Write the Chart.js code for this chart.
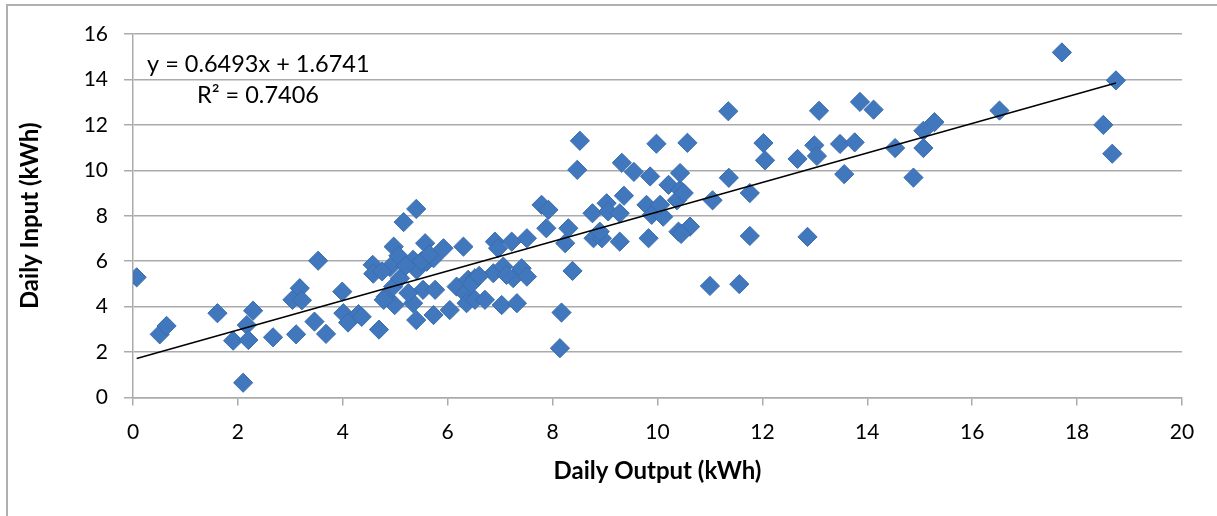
<!DOCTYPE html>
<html>
<head>
<meta charset="utf-8">
<script src="https://cdn.jsdelivr.net/npm/chart.js@4.4.1/dist/chart.umd.min.js"></script>
<style>
  html, body { margin: 0; padding: 0; background: #fff; overflow: hidden; }
  #wrap { position: relative; width: 1217px; height: 516px; overflow: hidden; }
  #frame { position: absolute; left: 6px; top: 4px; width: 1400px; height: 700px; border: 2px solid #b0b0b0; }
  canvas { position: absolute; left: 0; top: 0; }
</style>
</head>
<body>
<div id="wrap">
  <div id="frame"></div>
  <canvas id="chart" width="1217" height="516"></canvas>
</div>
<script>
// ── Data ───────────────────────────────────────────────────────────────────
const outputKwh = [
  0.07, 0.51, 0.64, 1.61, 1.91, 2.17, 2.20, 2.29, 2.10, 2.67,
  3.04, 3.18, 3.22, 3.11, 3.46, 3.53, 3.68, 3.99, 4.01, 4.10,
  4.30, 4.36, 4.57, 4.58, 4.69, 4.82, 4.97, 4.99, 4.90, 5.06,
  5.16, 5.40, 5.34, 5.34, 5.40, 4.96, 5.09, 5.41, 5.57, 5.60,
  5.73, 5.92, 6.30, 5.53, 5.76, 5.73, 6.04, 6.17, 6.33, 6.39,
  6.52, 6.36, 6.52, 6.71, 7.03, 7.32, 6.87, 7.06, 7.25, 7.41,
  7.51, 7.12, 6.90, 6.96, 7.22, 7.51, 7.79, 7.92, 7.88, 8.30,
  8.24, 8.38, 8.17, 8.14, 8.47, 8.52, 8.76, 9.03, 9.06, 9.36,
  9.28, 8.78, 8.94, 8.90, 9.28, 9.83, 9.79, 9.89, 10.11, 10.21,
  10.43, 10.37, 10.40, 10.62, 10.05, 9.32, 9.55, 9.86, 10.43, 9.98,
  10.57, 11.05, 11.36, 11.76, 11.76, 12.86, 11.00, 11.56, 11.35, 12.02,
  12.05, 12.67, 12.99, 13.04, 13.08, 13.48, 13.76, 13.86, 14.12, 13.56,
  14.53, 15.07, 15.28, 15.07, 14.88, 16.52, 17.71, 18.74, 18.50, 18.67,
  4.78, 5.20, 5.50, 5.65, 10.50, 6.45, 6.60, 5.25, 4.75, 10.45,
];

const inputKwh = [
  5.29, 2.78, 3.15, 3.71, 2.50, 3.19, 2.53, 3.82, 0.65, 2.65,
  4.30, 4.81, 4.28, 2.78, 3.34, 6.02, 2.80, 4.66, 3.71, 3.30,
  3.67, 3.55, 5.84, 5.45, 2.99, 4.44, 6.64, 4.07, 5.74, 6.24,
  7.72, 8.30, 6.06, 4.15, 3.41, 4.88, 5.25, 5.62, 6.79, 5.98,
  6.13, 6.57, 6.64, 4.74, 4.74, 3.63, 3.85, 4.88, 4.59, 5.18,
  5.25, 4.15, 4.30, 4.30, 4.07, 4.15, 5.47, 5.76, 5.25, 5.69,
  5.32, 5.40, 6.86, 6.57, 6.86, 7.01, 8.48, 8.26, 7.45, 7.45,
  6.79, 5.57, 3.74, 2.17, 10.02, 11.30, 8.11, 8.55, 8.19, 8.88,
  8.11, 7.01, 7.01, 7.30, 6.86, 7.01, 8.48, 8.04, 7.96, 9.36,
  9.14, 8.68, 7.30, 7.52, 8.48, 10.33, 9.93, 9.73, 9.88, 11.17,
  11.21, 8.68, 9.67, 9.00, 7.11, 7.07, 4.91, 4.99, 12.60, 11.20,
  10.44, 10.50, 11.10, 10.63, 12.62, 11.16, 11.23, 13.01, 12.67, 9.83,
  10.98, 11.74, 12.12, 10.98, 9.68, 12.63, 15.19, 13.96, 12.00, 10.73,
  4.30, 5.80, 6.00, 6.30, 9.00, 5.00, 5.35, 4.60, 5.55, 7.20,
];

// Excel linear trendline, as printed on the chart
const TREND_SLOPE = 0.6493;
const TREND_INTERCEPT = 1.6741;
const TREND_R2 = 0.7406;

const X_MIN = 0, X_MAX = 20, X_STEP = 2;
const Y_MIN = 0, Y_MAX = 16, Y_STEP = 2;

// ── Styling ────────────────────────────────────────────────────────────────
const FONT = "Lato, 'Open Sans', sans-serif";
const GRID_COLOR = "#ababab";
const MARKER_FILL = "#4178bd";
const MARKER_EDGE = "#3a6cad";

const points = outputKwh.map((x, i) => ({ x, y: inputKwh[i] }));
const xLo = Math.min(...outputKwh);
const xHi = Math.max(...outputKwh);
const trendPoints = [
  { x: xLo, y: TREND_SLOPE * xLo + TREND_INTERCEPT },
  { x: xHi, y: TREND_SLOPE * xHi + TREND_INTERCEPT },
];

const equationLabel = {
  id: "equationLabel",
  afterDatasetsDraw(chart) {
    const ctx = chart.ctx;
    ctx.save();
    ctx.font = "23.5px " + FONT;
    ctx.fillStyle = "#000";
    ctx.textAlign = "left";
    ctx.textBaseline = "alphabetic";
    ctx.fillText(`y = ${TREND_SLOPE}x + ${TREND_INTERCEPT}`, 147, 72);
    ctx.fillText(`R² = ${TREND_R2}`, 197, 103);
    ctx.restore();
  },
};

new Chart(document.getElementById("chart"), {
  type: "scatter",
  data: {
    datasets: [
      {
        type: "line",
        label: "Linear trend",
        data: trendPoints,
        borderColor: "#000",
        borderWidth: 1.5,
        pointRadius: 0,
        fill: false,
        order: 0,
      },
      {
        label: "Daily data",
        data: points,
        pointStyle: "rectRot",
        pointRadius: 9.6,
        backgroundColor: MARKER_FILL,
        borderColor: MARKER_EDGE,
        borderWidth: 1,
        order: 1,
      },
    ],
  },
  options: {
    responsive: false,
    animation: false,
    events: [],
    layout: { padding: { left: 6, top: 34, right: 35, bottom: 0 } },
    plugins: { legend: { display: false }, tooltip: { enabled: false } },
    scales: {
      x: {
        type: "linear",
        min: X_MIN,
        max: X_MAX,
        afterFit: (s) => { s.height = 118.5; },
        ticks: { stepSize: X_STEP, color: "#000", padding: 14, font: { family: FONT, size: 21 } },
        grid: { drawOnChartArea: false, drawTicks: true, tickLength: 8, color: GRID_COLOR, lineWidth: 1.5 },
        border: { color: GRID_COLOR, width: 1.5 },
        title: {
          display: true,
          text: "Daily Output (kWh)",
          color: "#000",
          font: { family: FONT, size: 24, weight: "bold" },
          padding: { top: 0, bottom: 30 },
        },
      },
      y: {
        type: "linear",
        min: Y_MIN,
        max: Y_MAX,
        afterFit: (s) => { s.width = 127; },
        ticks: { stepSize: Y_STEP, color: "#000", padding: 16, font: { family: FONT, size: 21 } },
        grid: { drawTicks: true, tickLength: 9, color: GRID_COLOR, lineWidth: 1.5 },
        border: { color: GRID_COLOR, width: 1.5 },
        title: {
          display: true,
          text: "Daily Input (kWh)",
          color: "#000",
          font: { family: FONT, size: 24, weight: "bold" },
          padding: { top: 10, bottom: 0 },
        },
      },
    },
  },
  plugins: [equationLabel],
});
</script>
</body>
</html>
